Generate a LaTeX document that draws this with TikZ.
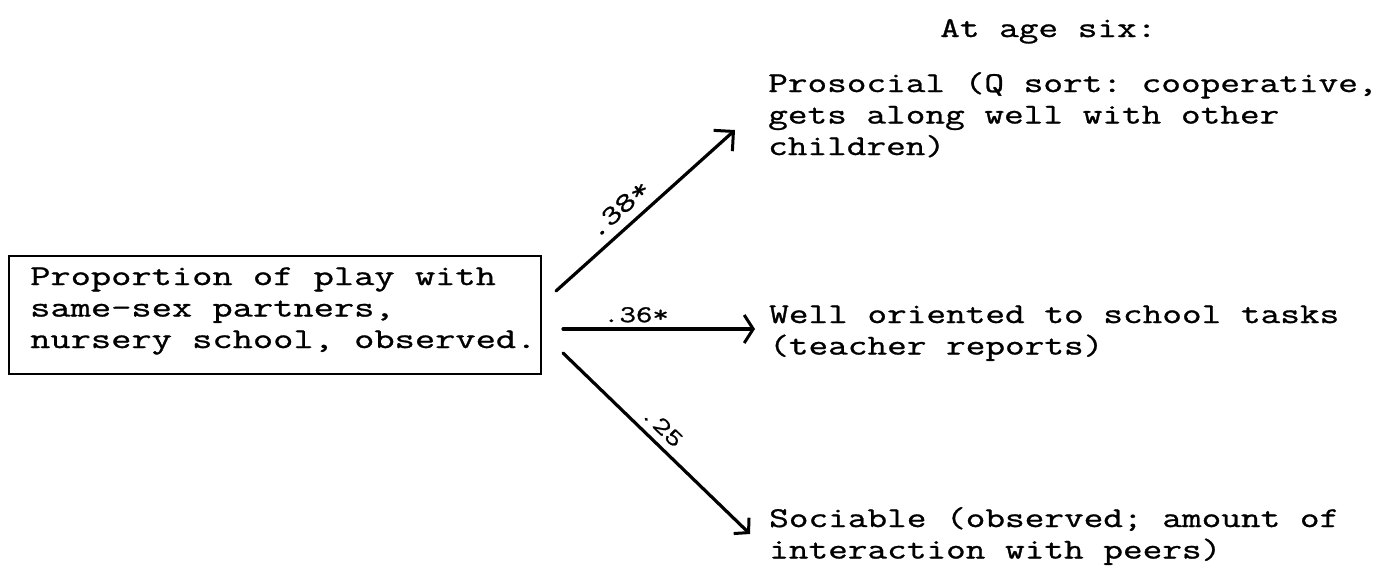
\documentclass[tikz,border=0pt]{standalone}
\usepackage{fontspec}
\setmonofont{Latin Modern Mono}[FakeStretch=1.33,FakeBold=1]
\newfontfamily\leftmono{Latin Modern Mono}[FakeStretch=1.37,FakeBold=1]
\usetikzlibrary{arrows.meta}
\newcommand\twfont{\ttfamily\fontsize{28.7}{31.5}\selectfont}
\newcommand\boxfont{\leftmono\fontsize{28.7}{31.5}\selectfont}
\newcommand\lblfont{\ttfamily\fontsize{24}{26}\selectfont}
\newcommand\biglblfont{\ttfamily\fontsize{27}{29}\selectfont}
\tikzset{
  txt/.style={anchor=base west, inner sep=0pt, font=\twfont},
  lbl/.style={inner sep=2pt, font=\lblfont},
  link/.style={line width=3.2pt, line cap=round},
  frame/.style={draw, line width=2.4pt, inner sep=0pt, anchor=north west}
}
\begin{document}
\begin{tikzpicture}[x=1pt,y=-1pt]
\useasboundingbox (0,0) rectangle (1381,571);
% source box
\node[frame, minimum width=532pt, minimum height=118pt] (box) at (8,255) {};
\node[txt, font=\boxfont] (src) at (30,285) {\begin{tabular}[t]{@{}l@{}}Proportion of play with\\same-sex partners,\\nursery school, observed.\end{tabular}};
% targets
\node[txt] (head) at (940,37) {At age six:};
\node[txt] (pro) at (768,92) {\begin{tabular}[t]{@{}l@{}}Prosocial (Q sort: cooperative,\\gets along well with other\\children)\end{tabular}};
\node[txt] (well) at (769,323) {\begin{tabular}[t]{@{}l@{}}Well oriented to school tasks\\(teacher reports)\end{tabular}};
\node[txt] (soc) at (769,527) {\begin{tabular}[t]{@{}l@{}}Sociable (observed; amount of\\interaction with peers)\end{tabular}};
% connector end points
\coordinate (s1) at (556,291);
\coordinate (e1) at (735,130);
\coordinate (s2) at (563,329);
\coordinate (e2) at (755,329);
\coordinate (s3) at (563,353);
\coordinate (e3) at (750,534);
\draw[link, -{Straight Barb[length=14pt,width=28pt,line width=3pt]}] (s1) -- node[lbl, font=\biglblfont, pos=0.42, sloped, above=7pt] (l1) {.38*} (e1);
\draw[link, -{Straight Barb[length=9pt,width=28pt,line width=3pt]}] (s2) -- node[lbl, pos=0.38, above=3pt] (l2) {.36*} (e2);
\draw[link, -{Straight Barb[length=10pt,width=22pt,line width=3pt]}] (s3) -- node[lbl, pos=0.47, sloped, above=5pt] (l3) {.25} (e3);
\end{tikzpicture}
\end{document}
